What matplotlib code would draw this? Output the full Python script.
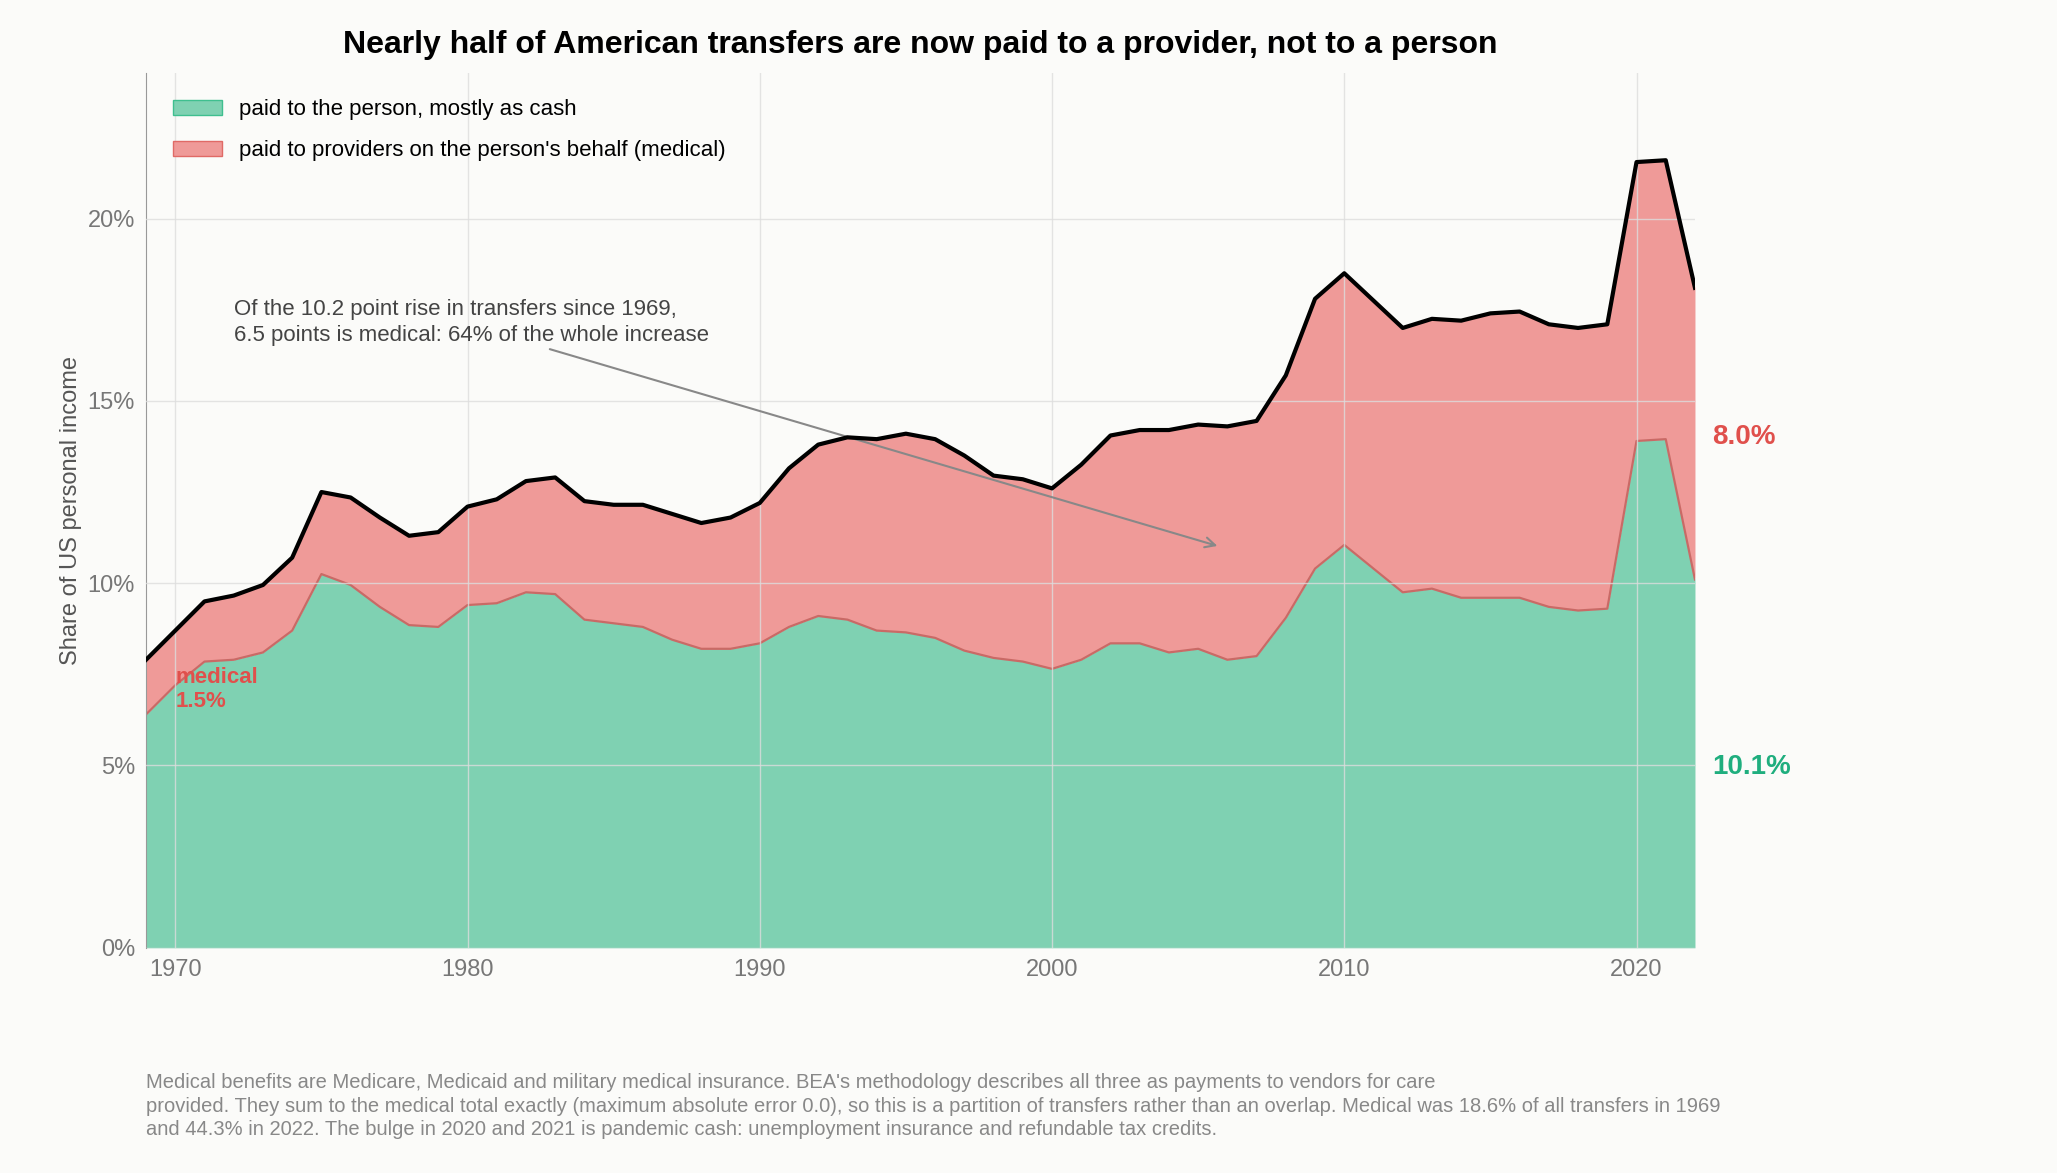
import numpy as np
import matplotlib.pyplot as plt

plt.rcParams['font.family'] = ['Liberation Sans', 'DejaVu Sans']

years = np.arange(1969, 2023)
total = [7.9, 8.7, 9.5, 9.66, 9.95, 10.7, 12.5, 12.35, 11.8, 11.3, 11.4,
         12.1, 12.3, 12.8, 12.9, 12.25, 12.15, 12.15, 11.9, 11.65, 11.8,
         12.2, 13.15, 13.8, 14.0, 13.95, 14.1, 13.95, 13.5, 12.95, 12.85,
         12.6, 13.25, 14.05, 14.2, 14.2, 14.35, 14.3, 14.45, 15.7, 17.8,
         18.5, 17.75, 17.0, 17.25, 17.2, 17.4, 17.45, 17.1, 17.0, 17.1,
         21.55, 21.6, 18.1]
cash = [6.4, 7.2, 7.85, 7.9, 8.1, 8.7, 10.25, 9.95, 9.35, 8.85, 8.8,
        9.4, 9.45, 9.75, 9.7, 9.0, 8.9, 8.8, 8.45, 8.2, 8.2,
        8.35, 8.8, 9.1, 9.0, 8.7, 8.65, 8.5, 8.15, 7.95, 7.85,
        7.65, 7.9, 8.35, 8.35, 8.1, 8.2, 7.9, 8.0, 9.05, 10.4,
        11.05, 10.4, 9.75, 9.85, 9.6, 9.6, 9.6, 9.35, 9.25, 9.3,
        13.9, 13.95, 10.1]
total = np.array(total)
cash = np.array(cash)
medical = total - cash

green = '#7fd1b2'
red = '#ef9a98'
bg = '#fbfbf9'

fig = plt.figure(figsize=(20.57, 11.73), dpi=100, facecolor=bg)
ax = fig.add_axes([0.071, 0.192, 0.753, 0.746], facecolor=bg)

ax.fill_between(years, 0, cash, color=green, lw=0, label='paid to the person, mostly as cash', zorder=1)
ax.fill_between(years, cash, total, color=red, lw=0,
                label="paid to providers on the person's behalf (medical)", zorder=1)
ax.plot(years, cash, color='#c96a66', lw=1.6, zorder=2)
ax.plot(years, total, color='black', lw=3, zorder=4)

ax.set_xlim(1969, 2022)
ax.set_ylim(0, 24)
ax.set_yticks([0, 5, 10, 15, 20])
ax.set_yticklabels(['0%', '5%', '10%', '15%', '20%'])
ax.set_xticks([1970, 1980, 1990, 2000, 2010, 2020])
ax.grid(True, color='#dddddd', lw=1, zorder=3, alpha=0.8)
ax.set_axisbelow(False)
ax.tick_params(labelsize=17, colors='#777777', length=0, pad=8)
for s in ['top', 'right', 'bottom']:
    ax.spines[s].set_visible(False)
ax.spines['left'].set_color('#999999')
ax.set_ylabel('Share of US personal income', fontsize=17, color='#555555')

from matplotlib.patches import Patch
handles = [Patch(facecolor=green, edgecolor='#3fbf8f', label='paid to the person, mostly as cash'),
           Patch(facecolor=red, edgecolor='#e06a66', label="paid to providers on the person's behalf (medical)")]
ax.legend(handles=handles, loc='upper left', fontsize=16, frameon=False,
          handlelength=2.2, borderaxespad=0.8, labelspacing=0.9)

ax.set_title('Nearly half of American transfers are now paid to a provider, not to a person',
             fontsize=23, fontweight='bold', pad=14)

ax.annotate('Of the 10.2 point rise in transfers since 1969,\n6.5 points is medical: 64% of the whole increase',
            xy=(2005.75, 11.0), xytext=(1972, 17.8), fontsize=16, color='#444444',
            va='top', linespacing=1.3,
            arrowprops=dict(arrowstyle='->', color='#888888', lw=1.5,
                            relpos=(0.64, 0.0), mutation_scale=18))

ax.text(1970, 7.7, 'medical\n1.5%', color='#e0504c', fontsize=16, fontweight='bold',
        va='top', linespacing=1.2, zorder=5)
ax.text(2022.6, 14.0, f'{medical[-1]:.1f}%', color='#e0504c', fontsize=20,
        fontweight='bold', va='center', clip_on=False)
ax.text(2022.6, 4.95, f'{cash[-1]:.1f}%', color='#1fae7e', fontsize=20,
        fontweight='bold', va='center', clip_on=False)

fig.text(0.071, 0.085,
         "Medical benefits are Medicare, Medicaid and military medical insurance. BEA's methodology describes all three as payments to vendors for care\n"
         "provided. They sum to the medical total exactly (maximum absolute error 0.0), so this is a partition of transfers rather than an overlap. Medical was 18.6% of all transfers in 1969\n"
         "and 44.3% in 2022. The bulge in 2020 and 2021 is pandemic cash: unemployment insurance and refundable tax credits.",
         fontsize=14.5, color='#888888', va='top', linespacing=1.3)

fig.savefig('out.png', dpi=100, facecolor=bg)
